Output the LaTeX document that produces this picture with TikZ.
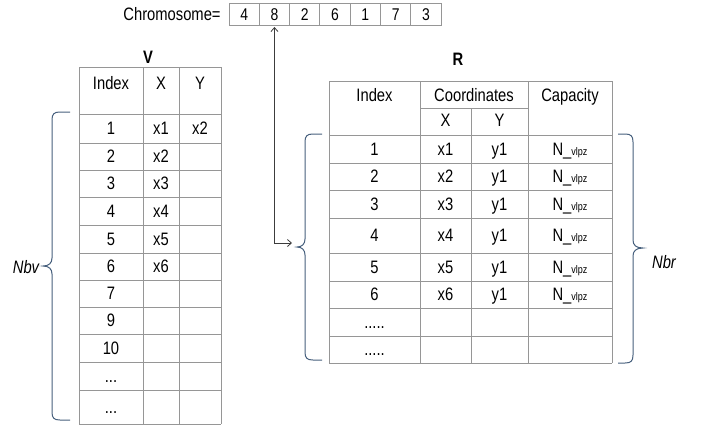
\documentclass[tikz,border=0pt]{standalone}
\usepackage{fontspec}
\setmainfont{Liberation Sans}[FakeStretch=0.82]
\usetikzlibrary{arrows.meta}

\definecolor{gridgray}{RGB}{150,150,150}
\definecolor{bracecol}{RGB}{70,95,125}
\definecolor{arrowgray}{RGB}{60,60,60}

\newcommand\threedots{...}
\newcommand\fivedots{.....}

% curly brace opening to the right: end x, spine x, tip x, top y, mid y, bottom y
\newcommand\openbraceL[6]{%
  \draw[bracepath] (#1,#4) -- ({#2+8},#4) .. controls ({#2+2},#4) and (#2,{#4+2}) .. (#2,{#4+8})
    -- (#2,{#5-8}) .. controls (#2,{#5-3}) and ({#2-3},#5) .. (#3,#5)
    .. controls ({#2-3},#5) and (#2,{#5+3}) .. (#2,{#5+8})
    -- (#2,{#6-8}) .. controls (#2,{#6-2}) and ({#2+2},#6) .. ({#2+8},#6) -- (#1,#6);}
% curly brace opening to the left
\newcommand\openbraceR[6]{%
  \draw[bracepath] (#1,#4) -- ({#2-8},#4) .. controls ({#2-2},#4) and (#2,{#4+2}) .. (#2,{#4+8})
    -- (#2,{#5-8}) .. controls (#2,{#5-3}) and ({#2+3},#5) .. (#3,#5)
    .. controls ({#2+3},#5) and (#2,{#5+3}) .. (#2,{#5+8})
    -- (#2,{#6-8}) .. controls (#2,{#6-2}) and ({#2-2},#6) .. ({#2-8},#6) -- (#1,#6);}

\begin{document}
\begin{tikzpicture}[x=1pt,y=-1pt,
  cell/.style={inner sep=0pt, text height=12.9pt, text depth=0pt, font=\fontsize{18}{20}\selectfont},
  title/.style={inner sep=0pt, font=\fontsize{18}{20}\selectfont\bfseries},
  side/.style={inner sep=0pt, font=\fontsize{18}{20}\selectfont\itshape},
  gene/.style={draw=gridgray, line width=0.9pt, minimum width=30.3pt, minimum height=22pt,
    inner sep=0pt, text height=12.2pt, text depth=0pt, font=\fontsize{17}{19}\selectfont},
  grid/.style={draw=gridgray, line width=0.9pt},
  bracepath/.style={draw=bracecol, line width=1pt},
  link/.style={draw=arrowgray, line width=0.8pt, {Straight Barb[length=4pt,width=7pt]}-{Straight Barb[length=4pt,width=7pt]}}]
\useasboundingbox (0,0) rectangle (707,432);

% ---------- chromosome ----------
\node[cell] (chromlabel) at (172,14) {Chromosome=};
\foreach \g [count=\k] in {4,8,2,6,1,7,3}
  \node[gene] (ch\k) at ({229+30.3*(\k-0.5)},14) {\g};

% ---------- table V ----------
\node[title] (vtitle) at (148,57) {V};
\foreach \yy in {67,114,143,170,197,225,253,280,307,334,362,390,424}
  \draw[grid] (79,\yy) -- (221,\yy);
\foreach \xx in {79,143,179,221}
  \draw[grid] (\xx,67) -- (\xx,424);
\node[cell] (vh1) at (111,83) {Index};
\node[cell] (vh2) at (161,83) {X};
\node[cell] (vh3) at (200,83) {Y};
\foreach \yy/\t [count=\k] in {128.5/1,156.5/2,183.5/3,211/4,239/5,266.5/6,293.5/7,320.5/9,348/10,376/\threedots,407/\threedots}
  \node[cell] (vi\k) at (111,\yy) {\t};
\foreach \yy/\t [count=\k] in {128.5/x1,156.5/x2,183.5/x3,211/x4,239/x5,266.5/x6}
  \node[cell] (vx\k) at (161,\yy) {\t};
\node[cell] (vy1) at (200,128.5) {x2};

% ---------- table R ----------
\node[title] (rtitle) at (458,59) {R};
\draw[grid] (329,81) -- (612,81);
\draw[grid] (420,108) -- (528,108);
\foreach \yy in {135,163,190,218,253,281,308,336,363}
  \draw[grid] (329,\yy) -- (612,\yy);
\foreach \xx in {329,420,528,612}
  \draw[grid] (\xx,81) -- (\xx,363);
\draw[grid] (471,108) -- (471,363);
\node[cell] (rh1) at (374.5,95) {Index};
\node[cell] (rh2) at (474,95) {Coordinates};
\node[cell] (rh3) at (570,95) {Capacity};
\node[cell] (rhx) at (445.5,120) {X};
\node[cell] (rhy) at (499.5,120) {Y};
\foreach \yy/\t [count=\k] in {149/1,176.5/2,204/3,235.5/4,267/5,294.5/6,322/\fivedots,349.5/\fivedots}
  \node[cell] (ri\k) at (374.5,\yy) {\t};
\foreach \yy [count=\k] in {149,176.5,204,235.5,267,294.5} {
  \node[cell] (rx\k) at (445.5,\yy) {x\k};
  \node[cell] (ry\k) at (499.5,\yy) {y1};
  \node[cell] (rc\k) at (570,\yy) {N\_{\fontsize{11}{13}\selectfont vlpz}};
}

% ---------- braces and counts ----------
\openbraceL{70}{52}{43}{112}{266}{420}
\node[side] (nbv) at (26,267) {Nbv};
\openbraceL{322}{305}{297}{134}{247}{360}
\openbraceR{618}{633}{643}{134}{248}{363}
\node[side] (nbr) at (664,262) {Nbr};

% ---------- link from gene to table R ----------
\coordinate (rtip) at (292,243);
\draw[link, shorten <=1.5pt] (ch2.south) |- (rtip);
\end{tikzpicture}
\end{document}
